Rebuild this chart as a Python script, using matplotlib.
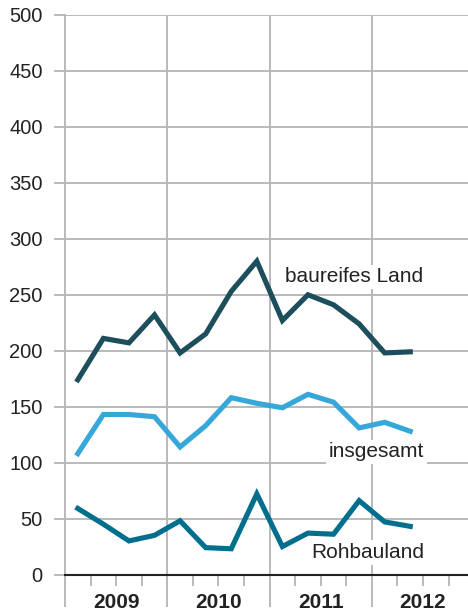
import matplotlib
matplotlib.use("Agg")
import matplotlib.pyplot as plt
import numpy as np

# Quarterly data, 2009 Q1 .. 2012 Q2
quarters = ["2009Q1", "2009Q2", "2009Q3", "2009Q4",
            "2010Q1", "2010Q2", "2010Q3", "2010Q4",
            "2011Q1", "2011Q2", "2011Q3", "2011Q4",
            "2012Q1", "2012Q2"]
baureifes_land = [174, 211, 207, 232, 198, 215, 253, 280, 227, 250, 241, 224, 198, 199]
insgesamt = [108, 143, 143, 141, 114, 133, 158, 153, 149, 161, 154, 131, 136, 128]
rohbauland = [59, 45, 30, 35, 48, 24, 23, 72, 25, 37, 36, 66, 47, 43]
years = [2009, 2010, 2011, 2012]
y_ticks = [0, 50, 100, 150, 200, 250, 300, 350, 400, 450, 500]

# x positions: quarter midpoints in year units
x = np.array([int(q[:4]) + (int(q[-1]) - 0.5) / 4 for q in quarters])

plt.rcParams['font.family'] = ['Liberation Sans', 'DejaVu Sans']

fig = plt.figure(figsize=(4.68, 6.13), dpi=100)
ax = fig.add_axes([65 / 468, (613 - 574.5) / 613, (468 - 65) / 468, (574.5 - 15) / 613])

grid_c = "#b4b4b4"
ax.set_xlim(2009, 2009 + 403 / 102.3)
ax.set_ylim(0, 500)

for yv in y_ticks[1:]:
    ax.axhline(yv, color=grid_c, lw=1.3, zorder=1)
for yr in years[1:]:
    ax.axvline(yr, color=grid_c, lw=1.3, zorder=1)

c_bl = "#1d4e5c"
c_ins = "#35a8d9"
c_roh = "#006f8e"
ax.plot(x, baureifes_land, color=c_bl, lw=3.7, zorder=3, solid_joinstyle='miter')
ax.plot(x, insgesamt, color=c_ins, lw=3.7, zorder=3, solid_joinstyle='miter')
ax.plot(x, rohbauland, color=c_roh, lw=3.7, zorder=3, solid_joinstyle='miter')

lab_kw = dict(fontsize=15, color="#222222", zorder=4,
              bbox=dict(facecolor="white", edgecolor="none", pad=2))
ax.text(2011.15, 266, "baureifes Land", ha="left", va="center", **lab_kw)
ax.text(2012.51, 109.5, "insgesamt", ha="right", va="center", **lab_kw)
ax.text(2012.51, 19.5, "Rohbauland", ha="right", va="center", **lab_kw)

ax.set_yticks(y_ticks)
ax.set_yticklabels([str(v) for v in y_ticks], fontsize=14.5, color="#222222")
ax.tick_params(axis="y", length=8, width=1.3, color=grid_c, pad=8)

ax.set_xticks(years)
ax.set_xticklabels([])
ax.set_xticks(np.arange(2009, 2013, 0.25), minor=True)
ax.tick_params(axis="x", which="major", length=23, width=1.3, color=grid_c)
ax.tick_params(axis="x", which="minor", length=8, width=1.3, color=grid_c)
for yr in years:
    ax.text(yr + 0.5, -18.5 / 559.5, str(yr), transform=ax.get_xaxis_transform(),
            ha="center", va="top", fontsize=15, fontweight="bold", color="#222222")

for s in ["right", "top"]:
    ax.spines[s].set_visible(False)
ax.spines["left"].set_color(grid_c)
ax.spines["left"].set_linewidth(1.3)
ax.spines["bottom"].set_color("#222222")
ax.spines["bottom"].set_linewidth(1.5)
ax.spines["bottom"].set_zorder(5)

fig.savefig("out.png", dpi=100)
